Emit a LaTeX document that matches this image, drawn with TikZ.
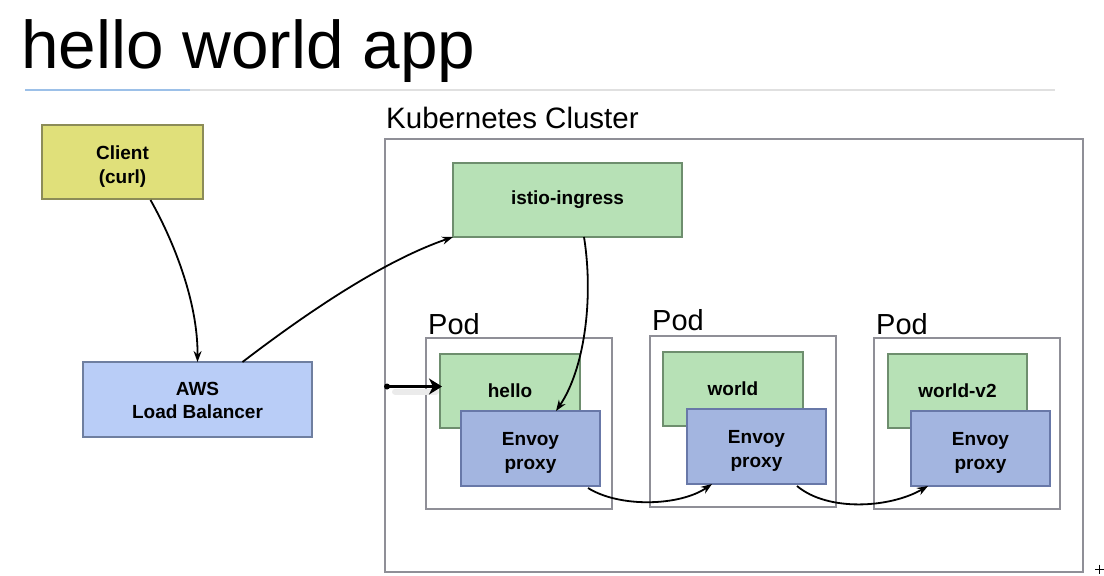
\documentclass[tikz,border=0pt]{standalone}
\usepackage{fontspec}
\setmainfont{Liberation Sans}
\usepackage{xcolor}
\usetikzlibrary{positioning,arrows.meta,calc}

\definecolor{clientfill}{HTML}{E0E07A}
\definecolor{clientdraw}{HTML}{8C8C58}
\definecolor{awsfill}{HTML}{B9CDF7}
\definecolor{awsdraw}{HTML}{6F7FA0}
\definecolor{svcfill}{HTML}{B7E1B6}
\definecolor{svcdraw}{HTML}{6E8E6E}
\definecolor{envfill}{HTML}{A3B5E0}
\definecolor{envdraw}{HTML}{6878A8}
\definecolor{framedraw}{HTML}{8F8F97}
\definecolor{rulegray}{HTML}{E0E0E0}
\definecolor{ruleblue}{HTML}{9CC0E8}

% invisible strut that pushes two-line labels down a little
\newcommand{\lowerstrut}[1]{\rule{0pt}{#1}}

\tikzset{
  box/.style={draw, line width=1.5pt, inner sep=0pt, outer sep=0pt, align=center,
    font=\fontsize{19}{24}\selectfont\bfseries},
  service/.style={box, fill=svcfill, draw=svcdraw, minimum width=140pt, minimum height=74pt},
  envoy/.style={box, fill=envfill, draw=envdraw, minimum width=139pt, minimum height=75pt},
  pod/.style={draw=framedraw, line width=1.5pt, inner sep=0pt, outer sep=0pt,
    minimum width=186pt, minimum height=171pt},
  podlabel/.style={anchor=base west, inner sep=0pt, font=\fontsize{29}{31}\selectfont},
  flow/.style={line width=1.8pt, -{Stealth[length=11pt,width=8pt]}}
}

\begin{document}
\begin{tikzpicture}[x=1pt,y=-1pt]
    \useasboundingbox (0,0) rectangle (1104,576);

    % title and rule
    \node[anchor=base west, inner sep=0pt, font=\fontsize{67.5}{70}\selectfont] (title) at (21,68) {hello world app};
    \draw[rulegray, line width=2pt] (25,90) -- (1055,90);
    \draw[ruleblue, line width=2pt] (25,90) -- (190,90);

    % cluster
    \node[draw=framedraw, line width=2pt, inner sep=0pt, outer sep=0pt,
          minimum width=698pt, minimum height=433pt] (cluster) at (734,355.5) {};
    \node[podlabel, font=\fontsize{29.5}{31}\selectfont] (clusterlabel) at ($(cluster.north west)+(1,-11)$) {Kubernetes Cluster};

    % outside
    \node[box, fill=clientfill, draw=clientdraw, minimum width=161pt, minimum height=74pt] (client) at (122.5,162) {\lowerstrut{22pt}Client\\(curl)};
    \node[box, fill=awsfill, draw=awsdraw, minimum width=229pt, minimum height=75pt,
          font=\fontsize{19}{23}\selectfont\bfseries] (aws) at (197.5,399.5) {\lowerstrut{16pt}AWS\\Load Balancer};

    % ingress
    \node[service, minimum width=229pt] (ingress) at (567.5,200) {istio-ingress};

    % pods
    \node[pod] (pod1) at (519,423.5) {};
    \node[pod] (pod2) at (743,421.5) {};
    \node[pod] (pod3) at (967,423.5) {};
    \node[podlabel] (pod1label) at ($(pod1.north west)+(2,-4)$) {Pod};
    \node[podlabel] (pod2label) at ($(pod2.north west)+(2,-6)$) {Pod};
    \node[podlabel] (pod3label) at ($(pod3.north west)+(2,-4)$) {Pod};

    \node[service] (hello) at (510,391) {hello};
    \node[envoy] (envoy1) at (530.5,448.5) {\lowerstrut{22pt}Envoy\\proxy};
    \node[service] (world) at (733,389) {world};
    \node[envoy] (envoy2) at (756.5,446.5) {\lowerstrut{22pt}Envoy\\proxy};
    \node[service, minimum width=139pt] (worldv2) at (957.5,391) {world-v2};
    \node[envoy] (envoy3) at (980.5,448.5) {\lowerstrut{22pt}Envoy\\proxy};

    % connectors
    \draw[flow] ($(client.south)+(28,1)$) .. controls (172,238) and (198,300) .. (aws.north);
    \draw[flow] ($(aws.north)+(45,0)$) .. controls (300,318) and (380,262) .. (ingress.south west);
    \draw[flow] ($(ingress.south)+(16.5,0)$) .. controls (594,300) and (584,370) .. ($(envoy1.north)+(25.5,0)$);
    \coordinate (entry) at ($(cluster.west)+(2,31)$);
    \draw[black!8, line width=6pt, line cap=round] ($(entry)+(8,5)$) -- ($(hello.west |- entry)+(-4,5)$);
    \fill (entry) circle (3pt);
    \draw[line width=3.5pt, -{Stealth[length=13pt,width=16pt,inset=4pt]}] (entry) -- ($(hello.west |- entry)+(2,0)$);
    \draw[flow] ($(envoy1.south east)+(-12,2)$) .. controls (620,508) and (680,506) .. ($(envoy2.south)+(-44.5,0)$);
    \draw[flow] ($(envoy2.south)+(40.5,2)$) .. controls (828,512) and (890,508) .. ($(envoy3.south)+(-52.5,0)$);

    % cursor mark
    \draw[line width=0.8pt] (1095,569) -- (1104,569) (1099.5,564.5) -- (1099.5,573.5);
\end{tikzpicture}
\end{document}
